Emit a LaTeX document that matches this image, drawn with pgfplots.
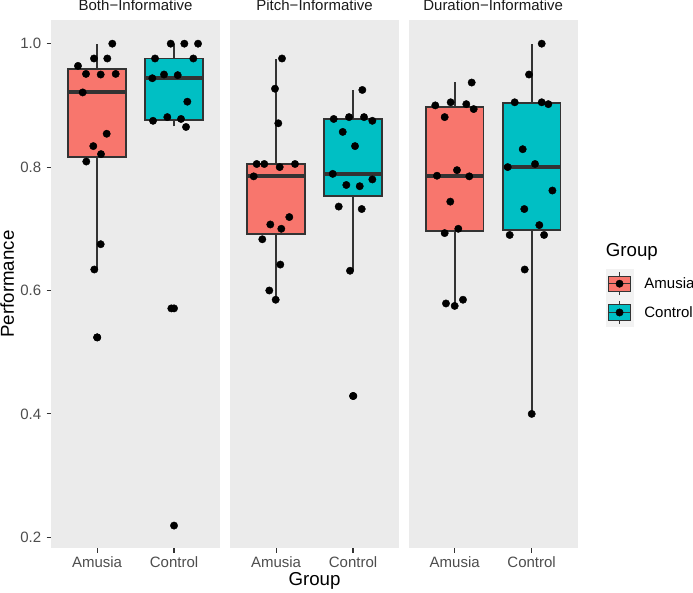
\documentclass[border=0pt]{standalone}
\usepackage{pgfplots}
\pgfplotsset{compat=1.18}
\usepackage{fontspec}
\setmainfont{Liberation Sans}
\definecolor{amusia}{HTML}{F8766D}
\definecolor{control}{HTML}{00BFC4}
\definecolor{panelbg}{HTML}{EBEBEB}
\definecolor{gg20}{HTML}{333333}
\definecolor{gg30}{HTML}{4D4D4D}
\definecolor{gg10}{HTML}{1A1A1A}
\definecolor{keybg}{HTML}{F2F2F2}
\pgfplotsset{
  panel/.style={
    scale only axis, width=169.3pt, height=528.3pt,
    xmin=0.4, xmax=2.6, ymin=0.1822, ymax=1.0384,
    axis background/.style={fill=panelbg},
    axis line style={draw=none},
    xtick={1,2}, xticklabels={Amusia,Control},
    xtick pos=left, ytick pos=left,
    tick align=outside, major tick length=4.3pt,
    tick style={color=gg20, line width=1.1pt},
    xticklabel style={font=\fontsize{15}{18}\selectfont, text=gg30, anchor=base, inner sep=0pt, yshift=-14.6pt},
    yticklabel style={font=\fontsize{15}{18}\selectfont, text=gg30, anchor=east, inner sep=0pt, xshift=-5.2pt,
      /pgf/number format/.cd, fixed, fixed zerofill, precision=1, assume math mode=true},
    clip=false,
  },
  wsk/.style={draw=gg20, line width=1.9pt, forget plot},
  bxs/.style={draw=gg20, line width=1.9pt, line join=miter, forget plot},
  med/.style={draw=gg20, line width=3.8pt, forget plot},
  pts/.style={only marks, mark=*, mark size=3.7pt, black, forget plot},
}
% #1 left, #2 centre, #3 right, #4 colour, #5 lower whisker, #6 lower quartile, #7 median, #8 upper quartile, #9 upper whisker
\newcommand{\ggbox}[9]{%
  \addplot[wsk] coordinates {(#2,#5) (#2,#6)};
  \addplot[wsk] coordinates {(#2,#8) (#2,#9)};
  \addplot[bxs, fill=#4] coordinates {(#1,#6) (#3,#6) (#3,#8) (#1,#8)} -- cycle;
  \addplot[med] coordinates {(#1,#7) (#3,#7)};
}
\begin{document}
\begin{tikzpicture}
\path[use as bounding box] (0,0) rectangle (693pt,593pt);

% ---------- Panel 1: Both-Informative ----------
\begin{axis}[panel, at={(50.9pt,44.7pt)}, anchor=south west,
  ytick={0.2,0.4,0.6,0.8,1.0}]
\ggbox{0.625}{1}{1.375}{amusia}{0.634}{0.8164}{0.9217}{0.9585}{1.0}
\ggbox{1.625}{2}{2.375}{control}{0.866}{0.877}{0.944}{0.976}{1.0}
\addplot[pts] coordinates {
 (0.752,0.964) (0.856,0.951) (0.960,0.976) (1.047,0.950) (1.133,0.976)
 (1.198,1.000) (1.242,0.951) (0.813,0.921) (1.125,0.854) (0.951,0.834)
 (1.051,0.821) (0.860,0.809) (1.047,0.675) (0.964,0.634) (1.003,0.524)
 (1.000,0.524)
};
\addplot[pts] coordinates {
 (1.957,1.000) (2.134,1.000) (2.312,1.000) (1.753,0.976) (2.251,0.976)
 (1.718,0.944) (1.870,0.950) (2.048,0.949) (2.173,0.906) (1.727,0.875)
 (1.913,0.881) (2.091,0.878) (2.156,0.865) (1.965,0.571) (2.000,0.219)
 (2.000,0.571)
};
\end{axis}

% ---------- Panel 2: Pitch-Informative ----------
\begin{axis}[panel, at={(229.9pt,44.7pt)}, anchor=south west, ytick=\empty]
\ggbox{0.625}{1}{1.375}{amusia}{0.585}{0.691}{0.7856}{0.8055}{0.975}
\ggbox{1.625}{2}{2.375}{control}{0.632}{0.7527}{0.789}{0.8775}{0.925}
\addplot[pts] coordinates {
 (1.077,0.976) (0.986,0.927) (1.029,0.871) (0.748,0.805) (0.847,0.805)
 (1.047,0.800) (1.246,0.805) (0.709,0.785) (1.172,0.719) (0.925,0.707)
 (1.068,0.700) (0.821,0.683) (1.055,0.642) (0.912,0.600) (0.995,0.585)
};
\addplot[pts] coordinates {
 (2.121,0.925) (1.749,0.878) (1.948,0.881) (2.143,0.881) (2.251,0.875)
 (1.866,0.857) (2.026,0.834) (1.736,0.789) (2.251,0.780) (1.913,0.771)
 (2.087,0.769) (1.814,0.736) (2.113,0.732) (1.961,0.632) (2.004,0.429)
 (2.000,0.429)
};
\end{axis}

% ---------- Panel 3: Duration-Informative ----------
\begin{axis}[panel, at={(408.5pt,44.7pt)}, anchor=south west, ytick=\empty,
  legend style={at={(1.1666,0.5281)}, anchor=north west, draw=none, fill=none,
    inner sep=0pt, outer sep=0pt, row sep=0pt, column sep=11.3pt,
    font=\fontsize{15}{18}\selectfont, nodes={inner sep=0pt, outer sep=0pt}},
  legend cell align=left]
\ggbox{0.625}{1}{1.375}{amusia}{0.575}{0.6965}{0.7856}{0.897}{0.938}
\ggbox{1.625}{2}{2.375}{control}{0.400}{0.698}{0.7997}{0.9034}{1.0}
\addplot[pts] coordinates {
 (1.221,0.937) (0.748,0.900) (0.948,0.905) (1.151,0.902) (1.247,0.894)
 (0.870,0.881) (1.030,0.795) (0.770,0.786) (1.190,0.785) (0.943,0.744)
 (1.047,0.700) (0.870,0.693) (0.887,0.579) (1.000,0.575) (1.108,0.585)
};
\addplot[pts] coordinates {
 (2.131,1.000) (1.966,0.950) (1.780,0.905) (2.131,0.905) (2.217,0.902)
 (1.884,0.829) (2.044,0.805) (1.689,0.800) (2.270,0.762) (1.905,0.732)
 (2.100,0.706) (1.715,0.690) (2.162,0.690) (1.910,0.634) (2.001,0.400)
};
\addlegendimage{legend image code/.code={
  \fill[keybg] (0pt,-14.2pt) rectangle (26.7pt,14.2pt);
  \draw[gg20, line width=1.1pt] (13.35pt,-11.4pt) -- (13.35pt,11.4pt);
  \filldraw[fill=amusia, draw=gg20, line width=1.1pt] (2.7pt,-7.6pt) rectangle (24pt,7.6pt);
  \draw[gg20, line width=1.6pt] (2.7pt,0pt) -- (24pt,0pt);
  \fill[black] (13.35pt,0pt) circle (3.7pt);
}}
\addlegendentry{Amusia}
\addlegendimage{legend image code/.code={
  \fill[keybg] (0pt,-14.2pt) rectangle (26.7pt,14.2pt);
  \draw[gg20, line width=1.1pt] (13.35pt,-11.4pt) -- (13.35pt,11.4pt);
  \filldraw[fill=control, draw=gg20, line width=1.1pt] (2.7pt,-7.6pt) rectangle (24pt,7.6pt);
  \draw[gg20, line width=1.6pt] (2.7pt,0pt) -- (24pt,0pt);
  \fill[black] (13.35pt,0pt) circle (3.7pt);
}}
\addlegendentry{Control}
\end{axis}

% ---------- titles ----------
\node[anchor=base, inner sep=0pt, text=gg10, font=\fontsize{15}{18}\selectfont] at (135.55pt,582pt) {Both−Informative};
\node[anchor=base, inner sep=0pt, text=gg10, font=\fontsize{15}{18}\selectfont] at (314.55pt,582pt) {Pitch−Informative};
\node[anchor=base, inner sep=0pt, text=gg10, font=\fontsize{15}{18}\selectfont] at (493.15pt,582pt) {Duration−Informative};
\node[anchor=base, inner sep=0pt, font=\fontsize{18.7}{22}\selectfont] at (314.55pt,7.9pt) {Group};
\node[rotate=90, inner sep=0pt, font=\fontsize{18.7}{22}\selectfont] at (7.3pt,309pt) {Performance};
\node[anchor=base west, inner sep=0pt, font=\fontsize{18.7}{22}\selectfont] at (605.7pt,336.3pt) {Group};
\end{tikzpicture}
\end{document}
